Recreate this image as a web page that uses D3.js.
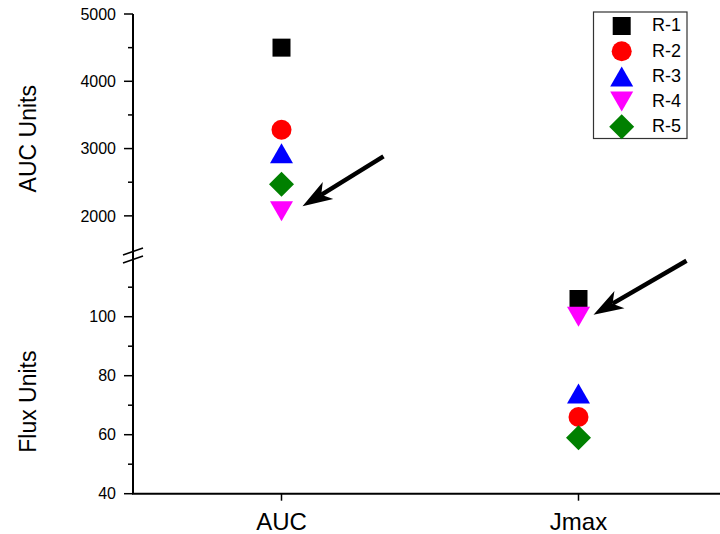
<!DOCTYPE html>
<html><head><meta charset="utf-8">
<script src="https://cdn.jsdelivr.net/npm/d3@7"></script>
<style>
html,body{margin:0;padding:0;background:#fff;}
svg{display:block;font-family:"Liberation Sans",Arial,sans-serif;}
</style></head>
<body>
<svg id="chart" width="720" height="534"></svg>
<script>
// ---- data ----
const categories = ["AUC", "Jmax"];
const seriesNames = ["R-1", "R-2", "R-3", "R-4", "R-5"];
const aucValues = [4500, 3280, 2930, 2067, 2470];   // AUC Units (upper panel)
const jmaxValues = [106, 66, 74, 100, 59];          // Flux Units (lower panel)
const upperTicks = [2000, 3000, 4000, 5000];
const upperMinor = [2500, 3500, 4500];
const lowerTicks = [40, 60, 80, 100];
const lowerMinor = [50, 70, 90, 110];
const colors = ["#000000", "#ff0000", "#0000ff", "#ff00ff", "#008000"];
const shapes = ["square", "circle", "up", "down", "diamond"];
const arrowTargets = [{cat: "AUC", panel: "upper", value: 2067}, {cat: "Jmax", panel: "lower", value: 100}];

const svg = d3.select("#chart");
const axisX = 133;
const x = d3.scalePoint().domain(categories).range([axisX, 727]).padding(0.5);
const yU = d3.scaleLinear().domain([1500, 5000]).range([249.5, 14]);
const yL = d3.scaleLinear().domain([40, 118]).range([493.7, 263.6]);

function shapePath(s) {
  switch (s) {
    case "square": return "M-9,-9H9V9H-9Z";
    case "circle": return d3.symbol(d3.symbolCircle, Math.PI * 100)();
    case "up": return "M0,-10L11.5,10L-11.5,10Z";
    case "down": return "M0,10L11.5,-10L-11.5,-10Z";
    case "diamond": return "M0,-12.5L12.5,0L0,12.5L-12.5,0Z";
  }
}

// axes
const ax = svg.append("g").attr("stroke", "#000").attr("stroke-width", 2).attr("fill", "none");
ax.append("line").attr("x1", axisX).attr("x2", axisX).attr("y1", 14).attr("y2", yL(40));
ax.append("line").attr("x1", axisX - 1).attr("x2", 720).attr("y1", yL(40)).attr("y2", yL(40));

// break marks
const brk = svg.append("g").attr("stroke", "#000").attr("stroke-width", 1.5);
[251, 259].forEach(y0 => {
  brk.append("line").attr("x1", axisX - 10).attr("y1", y0 + 4).attr("x2", axisX + 10).attr("y2", y0 - 3);
});

const ticksG = svg.append("g").attr("stroke", "#000").attr("stroke-width", 1.5);
const labG = svg.append("g").attr("font-size", 16).attr("fill", "#000").attr("text-anchor", "end");
function yTicks(scale, major, minor) {
  major.forEach(v => {
    ticksG.append("line").attr("x1", axisX - 9).attr("x2", axisX).attr("y1", scale(v)).attr("y2", scale(v));
    labG.append("text").attr("x", axisX - 17).attr("y", scale(v)).attr("dy", "0.36em").text(v);
  });
  minor.forEach(v => {
    ticksG.append("line").attr("x1", axisX - 5).attr("x2", axisX).attr("y1", scale(v)).attr("y2", scale(v));
  });
}
yTicks(yU, upperTicks, upperMinor);
yTicks(yL, lowerTicks, lowerMinor);

categories.forEach(c => {
  ticksG.append("line").attr("x1", x(c)).attr("x2", x(c)).attr("y1", yL(40)).attr("y2", yL(40) + 7);
  svg.append("text").attr("x", x(c)).attr("y", 530).attr("text-anchor", "middle")
    .attr("font-size", 24).attr("fill", "#000").text(c);
});

// axis titles
svg.append("text").attr("transform", `translate(28,${(yU(5000) + yU(1500)) / 2 + 7}) rotate(-90)`)
  .attr("text-anchor", "middle").attr("dominant-baseline", "central").attr("font-size", 23).text("AUC Units");
svg.append("text").attr("transform", `translate(28,${(yL(40) + yL(118)) / 2 + 23}) rotate(-90)`)
  .attr("text-anchor", "middle").attr("dominant-baseline", "central").attr("font-size", 23).text("Flux Units");

// points
const pts = svg.append("g");
seriesNames.forEach((n, i) => {
  pts.append("path").attr("d", shapePath(shapes[i])).attr("fill", colors[i])
    .attr("transform", `translate(${x("AUC")},${yU(aucValues[i])})`);
});
[0, 3, 2, 1, 4].forEach(i => {
  pts.append("path").attr("d", shapePath(shapes[i])).attr("fill", colors[i])
    .attr("transform", `translate(${x("Jmax")},${yL(jmaxValues[i])})`);
});

// arrows
const arrG = svg.append("g");
const arrowOffsets = [{tip: [21, -5], tail: [102, -55]}, {tip: [15, -2], tail: [108, -56]}];
arrowTargets.forEach((a, k) => {
  const px = x(a.cat), py = (a.panel === "upper" ? yU : yL)(a.value);
  const tx = px + arrowOffsets[k].tip[0], ty = py + arrowOffsets[k].tip[1];
  const sx = px + arrowOffsets[k].tail[0], sy = py + arrowOffsets[k].tail[1];
  const ang = Math.atan2(ty - sy, tx - sx);
  const L = 30, W = 10, back = 22;
  const ux = Math.cos(ang), uy = Math.sin(ang);
  const nx = -uy, ny = ux;
  const bx = tx - ux * L, by = ty - uy * L;
  const ix = tx - ux * back, iy = ty - uy * back;
  arrG.append("line").attr("x1", sx).attr("y1", sy).attr("x2", ix).attr("y2", iy)
    .attr("stroke", "#000").attr("stroke-width", 4.5);
  arrG.append("path").attr("fill", "#000")
    .attr("d", `M${tx},${ty}L${bx + nx * W},${by + ny * W}L${ix},${iy}L${bx - nx * W},${by - ny * W}Z`);
});

// legend
const leg = svg.append("g");
leg.append("rect").attr("x", 593.5).attr("y", 12).attr("width", 93.5).attr("height", 126.5)
  .attr("fill", "#fff").attr("stroke", "#333").attr("stroke-width", 1.2);
seriesNames.forEach((n, i) => {
  const ry = 26 + i * 25.2;
  leg.append("path").attr("d", shapePath(shapes[i])).attr("fill", colors[i])
    .attr("transform", `translate(621.7,${ry})`);
  leg.append("text").attr("x", 652).attr("y", ry - 1).attr("dy", "0.36em").attr("font-size", 18)
    .attr("fill", "#000").text(n);
});
</script>
</body></html>
